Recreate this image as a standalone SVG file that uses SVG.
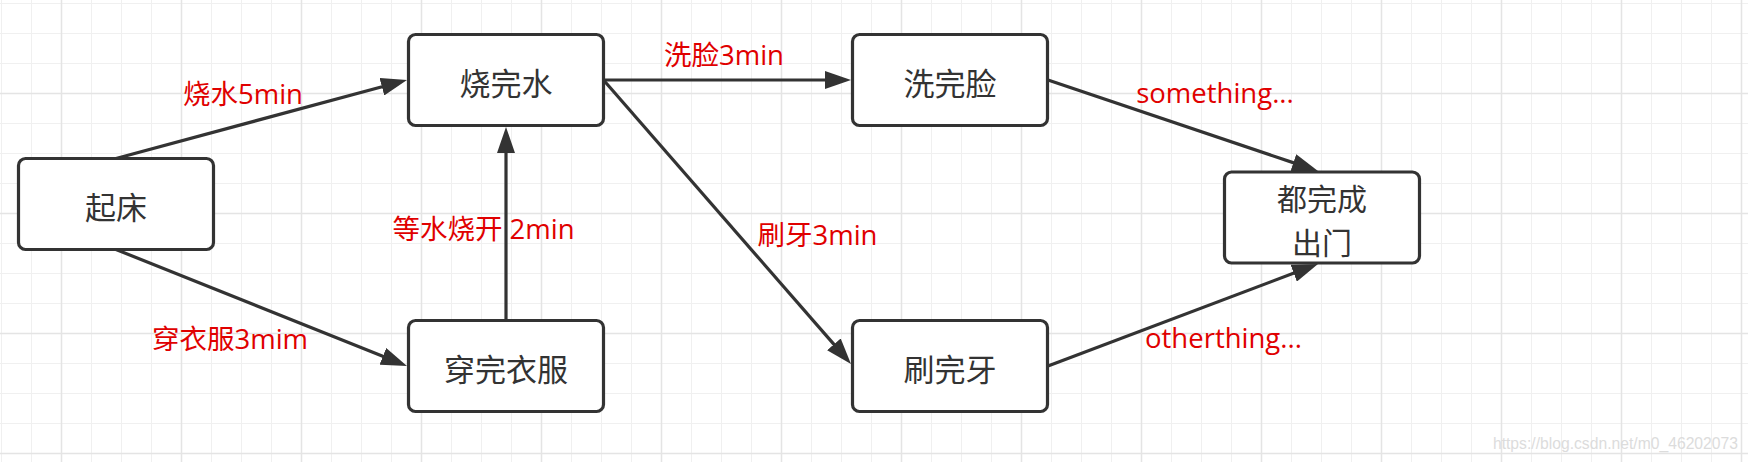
<svg xmlns="http://www.w3.org/2000/svg" width="1748" height="462" viewBox="0 0 1748 462">
  <style>
    .node rect { fill: #ffffff; stroke: #333333; stroke-width: 3.2; }
    .node text { font-family: "Noto Sans CJK SC", "Noto Sans", sans-serif; font-size: 31px; fill: #333333; text-anchor: middle; dominant-baseline: central; }
    .node text.two { font-size: 30px; }
    .edge { fill: none; stroke: #333333; stroke-width: 3.2; }
    .lbl { font-family: "Open Sans", "Noto Sans CJK SC", sans-serif; font-size: 27.5px; fill: #e00000; text-anchor: middle; }
    .wm { font-family: "Liberation Sans", sans-serif; font-size: 15.7px; fill: #dcdcdc; text-anchor: end; }
  </style>
  <defs>
    <pattern id="grid" patternUnits="userSpaceOnUse" x="1" y="3" width="120" height="120">
      <path d="M0.5,0 V120 M30.5,0 V120 M90.5,0 V120 M0,0.5 H120 M0,30.5 H120 M0,60.5 H120" fill="none" stroke="#f0f0f0" stroke-width="1"/>
      <path d="M60.5,0 V120 M0,90.5 H120" fill="none" stroke="#e4e4e4" stroke-width="1.5"/>
    </pattern>
    <marker id="arrow" markerUnits="userSpaceOnUse" markerWidth="26" markerHeight="18" refX="6" refY="9" orient="auto">
      <path d="M0,0 L26,9 L0,18 Z" fill="#333333"/>
    </marker>
  </defs>

  <rect x="0" y="0" width="1748" height="462" fill="#ffffff"/>
  <rect x="0" y="0" width="1748" height="462" fill="url(#grid)"/>

  <g id="connectors">
    <line class="edge" x1="116" y1="158.5" x2="387.69" y2="85.21" marker-end="url(#arrow)"/>
    <line class="edge" x1="116" y1="249.5" x2="388.43" y2="358.57" marker-end="url(#arrow)"/>
    <line class="edge" x1="506" y1="320.5" x2="506" y2="147" marker-end="url(#arrow)"/>
    <line class="edge" x1="603.5" y1="80" x2="831" y2="80" marker-end="url(#arrow)"/>
    <line class="edge" x1="603.5" y1="80" x2="837.86" y2="348.92" marker-end="url(#arrow)"/>
    <line class="edge" x1="1048" y1="80" x2="1299.05" y2="164.61" marker-end="url(#arrow)"/>
    <line class="edge" x1="1048" y1="366" x2="1299.29" y2="271.07" marker-end="url(#arrow)"/>
  </g>

  <g id="edge-labels">
    <text class="lbl" x="243" y="103.5">烧水5min</text>
    <text class="lbl" x="230" y="349">穿衣服3mim</text>
    <text class="lbl" x="483.5" y="238.5">等水烧开 2min</text>
    <text class="lbl" x="724" y="64.5">洗脸3min</text>
    <text class="lbl" x="817.5" y="245">刷牙3min</text>
    <text class="lbl" x="1215" y="103">something...</text>
    <text class="lbl" x="1223.5" y="348">otherthing...</text>
  </g>

  <g id="node-qichuang" class="node">
    <rect x="18.5" y="158.5" width="195" height="91" rx="7"/>
    <text x="116" y="205">起床</text>
  </g>
  <g id="node-shaowanshui" class="node">
    <rect x="408.5" y="34.5" width="195" height="91" rx="7"/>
    <text x="506" y="81">烧完水</text>
  </g>
  <g id="node-chuanwanyifu" class="node">
    <rect x="408.5" y="320.5" width="195" height="91" rx="7"/>
    <text x="506" y="367">穿完衣服</text>
  </g>
  <g id="node-xiwanlian" class="node">
    <rect x="852.5" y="34.5" width="195" height="91" rx="7"/>
    <text x="950" y="81">洗完脸</text>
  </g>
  <g id="node-shuawanya" class="node">
    <rect x="852.5" y="320.5" width="195" height="91" rx="7"/>
    <text x="950" y="367">刷完牙</text>
  </g>
  <g id="node-douwancheng" class="node">
    <rect x="1224.5" y="172" width="195" height="91" rx="7"/>
    <text class="two" x="1322" y="197">都完成</text>
    <text class="two" x="1322" y="241">出门</text>
  </g>

  <text class="wm" x="1738" y="449">https://blog.csdn.net/m0_46202073</text>
</svg>
